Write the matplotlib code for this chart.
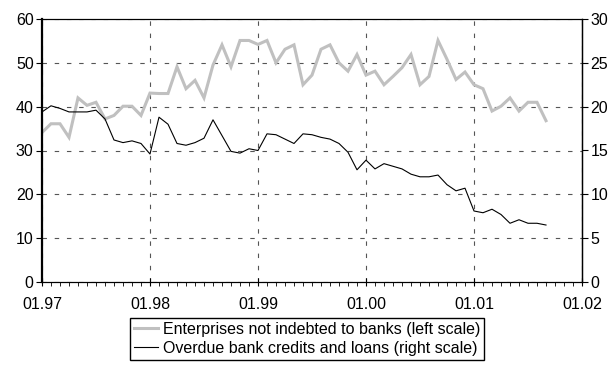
import numpy as np
import matplotlib
matplotlib.use("Agg")
import matplotlib.pyplot as plt
from matplotlib.ticker import MultipleLocator

plt.rcParams['font.family'] = ['Liberation Sans', 'DejaVu Sans']
plt.rcParams['font.size'] = 11.5

# monthly series, starting January 1997
not_indebted = [34.1, 36.1, 36.1, 33.0, 42.0, 40.3, 41.0, 37.2, 38.0, 40.1, 40.1, 38.0,
                43.1, 43.0, 43.0, 49.1, 44.1, 46.0, 42.0, 49.5, 54.1, 49.1, 55.1, 55.1,
                54.2, 55.1, 50.0, 53.1, 54.1, 45.0, 47.2, 53.1, 54.1, 50.0, 48.1, 51.9,
                47.2, 48.1, 45.0, 46.9, 48.9, 51.9, 45.0, 46.9, 55.1, 50.8, 46.2, 47.9,
                45.0, 44.1, 39.0, 40.1, 42.0, 39.0, 41.0, 41.0, 36.8]
overdue = [19.4, 20.1, 19.8, 19.4, 19.4, 19.4, 19.6, 18.6, 16.2, 15.9, 16.1, 15.8,
           14.6, 18.8, 18.0, 15.8, 15.6, 15.9, 16.4, 18.5, 16.7, 14.9, 14.7, 15.2,
           15.0, 16.9, 16.8, 16.3, 15.8, 16.9, 16.8, 16.5, 16.3, 15.8, 14.8, 12.8,
           13.9, 12.9, 13.5, 13.2, 12.9, 12.3, 12.0, 12.0, 12.2, 11.1, 10.4, 10.7,
           8.1, 7.9, 8.3, 7.7, 6.7, 7.1, 6.7, 6.7, 6.5]
year_labels = ['01.97', '01.98', '01.99', '01.00', '01.01', '01.02']
left_ticks = [0, 10, 20, 30, 40, 50, 60]
right_ticks = [0, 5, 10, 15, 20, 25, 30]

months = np.arange(len(not_indebted))

fig = plt.figure(figsize=(6.13, 3.70), dpi=100)
ax = fig.add_axes([42 / 613, 1 - 282 / 370, 540 / 613, 263 / 370])
ax2 = ax.twinx()

l1, = ax.plot(months, not_indebted, color='#c0c0c0', lw=2.2, solid_joinstyle='miter',
              label='Enterprises not indebted to banks (left scale)')
l2, = ax2.plot(months, overdue, color='black', lw=0.8,
               label='Overdue bank credits and loans (right scale)')

ax.set_xlim(0, 60)
ax.set_ylim(0, 60)
ax2.set_ylim(0, 30)
ax.set_xticks(np.arange(0, 61, 12))
ax.set_xticklabels(year_labels)
ax.xaxis.set_minor_locator(MultipleLocator(1))
ax.set_yticks(left_ticks)
ax2.set_yticks(right_ticks)

ax.grid(True, which='major', color='#555555', lw=0.8, dashes=(4, 7))
ax.set_axisbelow(True)

ax.tick_params(axis='x', which='major', direction='inout', length=6, width=0.8, pad=8)
ax.tick_params(axis='x', which='minor', direction='out', length=3, width=0.6)
ax.tick_params(axis='y', direction='out', length=4, width=0.8, pad=2)
ax2.tick_params(axis='y', direction='out', length=4, width=0.8, pad=2)

for sp in ax.spines.values():
    sp.set_linewidth(0.8)
ax.spines['left'].set_linewidth(1.6)
ax2.spines['left'].set_visible(False)
ax2.spines['right'].set_linewidth(1.0)

fig.legend(handles=[l1, l2], loc='upper center', bbox_to_anchor=(0.5015, 1 - 318 / 370),
           frameon=True, fancybox=False, edgecolor='black', framealpha=1,
           handlelength=1.5, handletextpad=0.3, borderpad=0.25, labelspacing=0.25,
           borderaxespad=0)

fig.savefig('out.png', dpi=100)
